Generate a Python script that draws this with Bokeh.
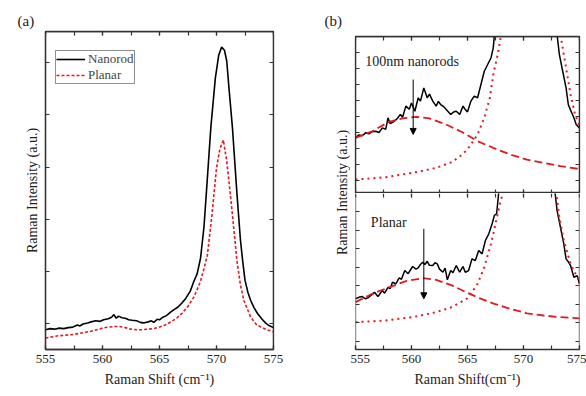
import numpy as np
from math import pi
from bokeh.plotting import figure
from bokeh.layouts import row, column
from bokeh.models import (Range1d, LinearAxis, SingleIntervalTicker, Label, Title,
                          Arrow, NormalHead, Legend, LegendItem)
from bokeh.embed import file_html
from bokeh.resources import INLINE

NaN = float("nan")
FONT = "Liberation Serif"
RED = "#e3191f"

# ---------------- Panel (a) data ----------------
a_nanorod_x = [555.0, 555.4, 555.8, 556.2, 556.6, 557.0, 557.4, 557.8, 558.0, 558.3, 558.7, 559.0,
               559.4, 559.8, 560.1, 560.5, 560.8, 561.0, 561.2, 561.4, 561.7, 562.0, 562.3, 562.6,
               563.0, 563.3, 563.6, 564.0, 564.3, 564.5, 564.8, 565.0, 565.3, 565.6, 566.0, 566.3,
               566.6, 567.0, 567.3, 567.7, 568.0, 568.3, 568.6, 568.9, 569.1, 569.5, 569.9, 570.2,
               570.45, 570.7, 570.9, 571.1, 571.4, 571.8, 572.1, 572.3, 572.5, 572.75, 573.0, 573.3,
               573.6, 574.0, 574.3, 574.6, 575.0]
a_nanorod_y = [0.88, 0.90, 0.89, 0.91, 0.90, 0.92, 0.93, 0.97, 0.95, 0.99, 1.01, 1.03,
               1.05, 1.04, 1.07, 1.09, 1.12, 1.17, 1.10, 1.14, 1.11, 1.10, 1.07, 1.06,
               1.05, 1.02, 1.01, 1.03, 1.05, 1.02, 1.08, 1.07, 1.12, 1.15, 1.22, 1.27,
               1.31, 1.40, 1.48, 1.62, 1.80, 1.95, 2.25, 2.85, 3.47, 4.75, 5.71, 6.15,
               6.30, 6.24, 6.03, 5.50, 4.75, 3.47, 2.60, 2.19, 1.83, 1.60, 1.44, 1.30,
               1.19, 1.08, 1.01, 0.96, 0.92]
a_planar_x = [555.0, 555.5, 556.0, 556.5, 557.0, 557.5, 558.0, 558.5, 559.0, 559.5, 560.0, 560.5,
              561.0, 561.5, 562.0, 562.5, 563.0, 563.5, 564.0, 564.5, 565.0, 565.5, 566.0, 566.5,
              567.0, 567.5, 568.0, 568.4, 568.6, 568.9, 569.2, 569.6, 570.0, 570.3, 570.6, 570.9,
              571.2, 571.4, 571.8, 572.1, 572.4, 573.0, 573.5, 573.9, 574.4, 575.0]
a_planar_y = [0.72, 0.74, 0.76, 0.77, 0.78, 0.79, 0.81, 0.83, 0.85, 0.88, 0.91, 0.93,
              0.94, 0.94, 0.92, 0.89, 0.88, 0.88, 0.89, 0.90, 0.93, 0.97, 1.03, 1.10,
              1.20, 1.33, 1.50, 1.70, 1.81, 2.05, 2.31, 3.08, 3.98, 4.35, 4.52, 4.11,
              3.50, 3.08, 2.19, 1.74, 1.44, 1.12, 0.98, 0.93, 0.88, 0.84]
a_labels = ["Nanorod", "Planar"]

# ---------------- Panel (b) data ----------------
b_top_x = [555.0, 555.3, 555.6, 555.9, 556.2, 556.5, 556.8, 557.1, 557.4, 557.7, 557.9, 558.1,
           558.4, 558.7, 559.0, 559.2, 559.5, 559.8, 560.0, 560.3, 560.6, 560.8, 561.1, 561.4,
           561.6, 561.9, 562.2, 562.4, 562.6, 562.9, 563.1, 563.5, 563.8, 564.0, 564.3, 564.6,
           564.8, 565.0, 565.3, 565.6, 565.9, 566.2, 566.5, 566.8, 567.1, 567.3, 567.4,
           570.5,
           573.0, 573.2, 573.5, 573.8, 574.0, 574.2, 574.5, 574.7, 575.0]
b_top_y = [3.67, 3.85, 3.80, 3.98, 3.92, 4.05, 4.08, 4.00, 4.29, 4.20, 4.92, 4.55,
           4.67, 4.85, 5.13, 4.95, 5.65, 5.45, 5.85, 5.33, 6.17, 5.96, 6.79, 6.17,
           6.40, 5.96, 5.65, 5.95, 5.75, 5.60, 5.44, 5.13, 5.30, 5.33, 5.13, 5.65,
           5.44, 5.29, 5.96, 6.27, 6.17, 7.00, 7.83, 8.25, 8.67, 9.29, 10.1,
           NaN,
           10.1, 8.88, 7.83, 6.79, 5.75, 5.40, 4.92, 4.50, 4.29]
b_top_broad_x = [555.0, 556.5, 558.0, 559.2, 560.4, 561.6, 563.1, 564.5, 565.9, 567.3, 568.8,
                 570.3, 571.8, 573.3, 575.0]
b_top_broad_y = [3.67, 4.08, 4.67, 4.88, 4.98, 4.88, 4.50, 4.03, 3.46, 3.04, 2.63,
                 2.31, 2.10, 1.90, 1.72]
b_top_main_x = [555.0, 557.7, 560.1, 562.2, 563.6, 564.4, 565.0, 565.3, 565.9, 566.5, 567.0,
                567.3, 567.7, 568.0, 570.5, 573.3, 573.8, 574.2, 574.6, 575.0]
b_top_main_y = [1.06, 1.21, 1.48, 1.79, 2.15, 2.55, 2.95, 3.25, 3.88, 4.92, 6.17,
                7.63, 8.88, 10.1, NaN, 10.1, 8.04, 6.38, 5.13, 4.45]

b_bot_x = [555.0, 555.3, 555.6, 555.9, 556.1, 556.4, 556.7, 557.0, 557.4, 557.6, 557.9, 558.1,
           558.3, 558.6, 558.9, 559.1, 559.4, 559.7, 560.1, 560.4, 560.6, 560.8, 561.0, 561.2,
           561.4, 561.6, 561.9, 562.1, 562.3, 562.5, 562.8, 563.0, 563.2, 563.5, 563.7, 564.0,
           564.3, 564.6, 564.8, 565.1, 565.4, 565.7, 566.0, 566.3, 566.6, 566.9, 567.2, 567.4,
           567.6, 567.8,
           570.5,
           572.8, 573.0, 573.3, 573.6, 573.8, 574.0, 574.2, 574.5, 574.8, 575.0]
b_bot_y = [3.30, 3.38, 3.42, 3.30, 3.35, 3.50, 3.65, 3.42, 3.75, 3.60, 3.92, 3.85,
           4.19, 4.10, 4.43, 4.35, 4.82, 4.65, 5.04, 4.90, 4.97, 5.15, 5.27, 5.15,
           5.32, 5.10, 5.09, 5.25, 5.18, 4.90, 4.73, 4.95, 4.32, 4.82, 4.70, 5.09,
           4.73, 5.04, 4.73, 4.82, 5.45, 5.36, 5.90, 5.72, 6.44, 6.80, 7.34, 7.79,
           7.88, 9.1,
           NaN,
           9.1, 8.05, 7.15, 6.26, 5.45, 5.30, 5.09, 4.46, 4.55, 4.10]
b_bot_broad_x = [555.0, 556.5, 558.0, 559.5, 561.0, 562.2, 563.6, 565.0, 566.0, 567.4, 568.8,
                 570.3, 571.8, 573.3, 575.0]
b_bot_broad_y = [3.12, 3.57, 3.92, 4.25, 4.41, 4.32, 4.02, 3.62, 3.35, 3.03, 2.76,
                 2.52, 2.40, 2.31, 2.25]
b_bot_main_x = [555.0, 557.7, 560.1, 562.2, 563.6, 564.4, 565.0, 565.3, 565.9, 566.5, 567.1,
                567.5, 567.9, 568.2, 570.5, 572.9, 573.2, 573.6, 574.2, 574.8, 575.0]
b_bot_main_y = [2.04, 2.13, 2.31, 2.58, 2.85, 3.12, 3.33, 3.57, 4.11, 5.00, 6.26,
                7.34, 8.42, 9.1, NaN, 9.1, 7.69, 6.44, 5.18, 4.46, 4.25]

arrow_top = {"x": 560.15, "y0": 7.31, "y1": 3.88}
arrow_bot = {"x": 561.1, "y0": 7.07, "y1": 3.30}


def style_axis(ax, labels):
    ax.major_tick_in = 4
    ax.major_tick_out = 0
    ax.minor_tick_in = 4
    ax.minor_tick_out = 0
    ax.axis_line_color = "#333333"
    ax.axis_line_width = 1.3
    ax.major_tick_line_color = "#333333"
    ax.minor_tick_line_color = "#333333"
    ax.major_tick_line_width = 1.2
    ax.minor_tick_line_width = 1.2
    if labels:
        ax.major_label_text_font = FONT
        ax.major_label_text_font_size = "13px"
        ax.major_label_text_color = "#222222"
        ax.major_label_standoff = 5
    else:
        ax.major_label_text_font_size = "0px"
        ax.major_label_standoff = 0
    ax.axis_label_text_font = FONT
    ax.axis_label_text_font_size = "14px"
    ax.axis_label_text_font_style = "normal"
    ax.axis_label_text_color = "#222222"


def boxed(p, xtick, ytick, xlabels, left_label, top_line=True):
    """Frame with inward ticks on all four sides. Returns (bottom axis, left axis)."""
    bx = p.below[0]
    ly = p.left[0]
    bx.ticker = xtick
    ly.ticker = ytick
    style_axis(bx, xlabels)
    style_axis(ly, False)
    if not xlabels:
        bx.fixed_location = p.y_range.start
    if not left_label:
        ly.fixed_location = p.x_range.start
    top = LinearAxis(ticker=xtick, fixed_location=p.y_range.end)
    right = LinearAxis(ticker=ytick, fixed_location=p.x_range.end)
    for ax, side in ((top, "above"), (right, "right")):
        style_axis(ax, False)
        p.add_layout(ax, side)
    if not top_line:
        top.axis_line_color = None
        p.outline_line_color = None
    else:
        p.outline_line_color = "#333333"
        p.outline_line_width = 1.3
    p.xgrid.visible = False
    p.ygrid.visible = False
    return bx, ly


def xticker():
    return SingleIntervalTicker(interval=5, num_minor_ticks=2)


def panel_title(text, offset):
    return Title(text=text, align="left", offset=offset, standoff=4, vertical_align="middle",
                 text_font=FONT, text_font_size="15px", text_font_style="normal",
                 text_color="#222222")


# ---------------- Panel (a) ----------------
pa = figure(width=290, height=396, output_backend="svg", toolbar_location=None,
            x_range=Range1d(555, 575), y_range=Range1d(0.5, 6.6),
            min_border_left=45, min_border_right=17, min_border_top=31, min_border_bottom=47)
pa.title = panel_title("(a)", -28)
bx_a, ly_a = boxed(pa, xticker(), SingleIntervalTicker(interval=1, num_minor_ticks=0), True, True)
bx_a.axis_label = "Raman Shift (cm⁻¹)"
bx_a.axis_label_standoff = 6
ly_a.axis_label = "Raman Intensity (a.u.)"
ly_a.axis_label_standoff = 6

r1 = pa.line(a_nanorod_x, a_nanorod_y, line_color="black", line_width=1.6)
r2 = pa.line(a_planar_x, a_planar_y, line_color=RED, line_width=1.6, line_dash="3 2")
leg = Legend(items=[LegendItem(label=a_labels[0], renderers=[r1]),
                    LegendItem(label=a_labels[1], renderers=[r2])])
leg.location = (10, 265)
leg.border_line_color = "#222222"
leg.border_line_width = 1
leg.label_text_font = FONT
leg.label_text_font_size = "13px"
leg.label_text_line_height = 1.0
leg.label_text_baseline = "middle"
leg.glyph_width = 29
leg.glyph_height = 10
leg.label_height = 10
leg.padding = 0
leg.spacing = 0
leg.margin = 0
leg.label_standoff = 3
pa.add_layout(leg)

# ---------------- Panel (b) label strip ----------------
lab = figure(width=60, height=396, output_backend="svg", toolbar_location=None,
             x_range=Range1d(0, 1), y_range=Range1d(0, 1), x_axis_type=None, y_axis_type=None,
             min_border=0)
lab.outline_line_color = None
lab.grid.visible = False
lab.title = panel_title("(b)", 34)
lab.add_layout(Label(x=52, y=157, x_units="screen", y_units="screen",
                     text="Raman Intensity (a.u.)", angle=pi / 2,
                     text_font=FONT, text_font_size="14px", text_align="center",
                     text_baseline="middle", text_color="#222222"))

# ---------------- Panel (b) top ----------------
pt = figure(width=236, height=193, output_backend="svg", toolbar_location=None,
            x_range=Range1d(555, 575), y_range=Range1d(0.19, 10.0),
            min_border_left=5, min_border_right=7, min_border_top=36, min_border_bottom=0)
pt.title = None
boxed(pt, xticker(), SingleIntervalTicker(interval=1, num_minor_ticks=0), False, False)
pt.line(b_top_x, b_top_y, line_color="black", line_width=1.5)
pt.line(b_top_broad_x, b_top_broad_y, line_color=RED, line_width=1.8, line_dash="8 4")
pt.line(b_top_main_x, b_top_main_y, line_color=RED, line_width=2, line_dash="2 4")
pt.add_layout(Arrow(end=NormalHead(size=6, fill_color="black", line_color="black"),
                    x_start=arrow_top["x"], y_start=arrow_top["y0"],
                    x_end=arrow_top["x"], y_end=arrow_top["y1"],
                    line_color="black", line_width=1))
pt.add_layout(Label(x=555.87, y=8.46, text="100nm nanorods", text_font=FONT,
                    text_font_size="14px", text_baseline="alphabetic", text_color="#222222"))

# ---------------- Panel (b) bottom ----------------
pb = figure(width=236, height=203, output_backend="svg", toolbar_location=None,
            x_range=Range1d(555, 575), y_range=Range1d(0.57, 8.97),
            min_border_left=5, min_border_right=7, min_border_top=0, min_border_bottom=47)
pb.title = None
bx_b, _ = boxed(pb, xticker(), SingleIntervalTicker(interval=1, num_minor_ticks=0), True, False,
                top_line=False)
bx_b.axis_label = "Raman Shift(cm⁻¹)"
bx_b.axis_label_standoff = 6
pb.line(b_bot_x, b_bot_y, line_color="black", line_width=1.5)
pb.line(b_bot_broad_x, b_bot_broad_y, line_color=RED, line_width=1.8, line_dash="8 4")
pb.line(b_bot_main_x, b_bot_main_y, line_color=RED, line_width=2, line_dash="2 4")
pb.add_layout(Arrow(end=NormalHead(size=6, fill_color="black", line_color="black"),
                    x_start=arrow_bot["x"], y_start=arrow_bot["y0"],
                    x_end=arrow_bot["x"], y_end=arrow_bot["y1"],
                    line_color="black", line_width=1))
pb.add_layout(Label(x=556.37, y=7.39, text="Planar", text_font=FONT,
                    text_font_size="14px", text_baseline="alphabetic", text_color="#222222"))

layout = row(pa, lab, column(pt, pb, spacing=0), spacing=0)
open("out.html", "w").write(file_html(layout, INLINE))
